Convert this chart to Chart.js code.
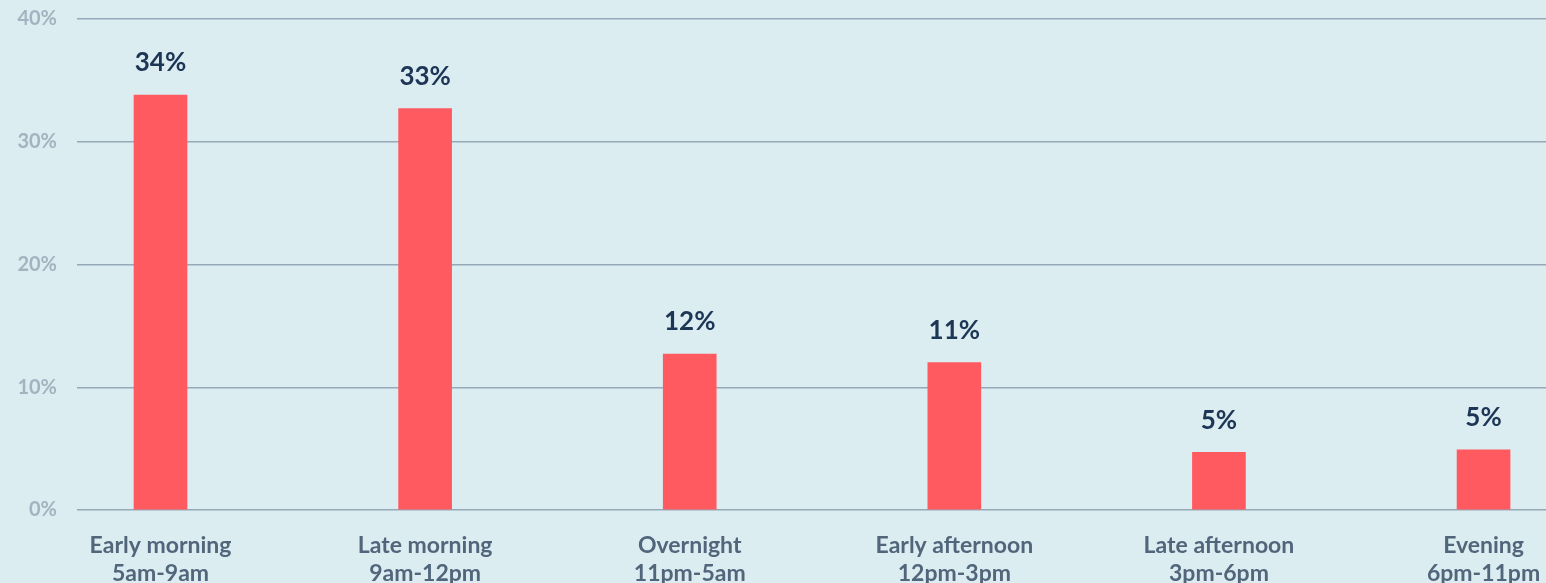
<!DOCTYPE html>
<html>
<head>
<meta charset="utf-8">
<script src="https://cdn.jsdelivr.net/npm/chart.js@4/dist/chart.umd.min.js"></script>
<style>
  html, body { margin: 0; padding: 0; background: #dbedf1; }
  #wrap { width: 1546px; height: 583px; position: relative; }
</style>
</head>
<body>
<div id="wrap"><canvas id="myChart"></canvas></div>
<script>
// categories (two lines each)
const slotNames = ['Early morning', 'Late morning', 'Overnight', 'Early afternoon', 'Late afternoon', 'Evening'];
const slotHours = ['5am-9am', '9am-12pm', '11pm-5am', '12pm-3pm', '3pm-6pm', '6pm-11pm'];
// bar heights (percent)
const shareValues = [33.8, 32.7, 12.7, 12.0, 4.7, 4.9];
// labels printed above the bars
const shareLabels = ['34%', '33%', '12%', '11%', '5%', '5%'];
const yTicks = [0, 10, 20, 30, 40];

const fontFam = 'Lato, "Open Sans", sans-serif';

// no auto padding from the scales
function noPad(s) {
  s.paddingTop = 0; s.paddingBottom = 0; s.paddingLeft = 0; s.paddingRight = 0;
}

// labels au dessus des barres
const barLabels = {
  id: 'barLabels',
  afterDatasetsDraw(chart) {
    const ctx = chart.ctx;
    const meta = chart.getDatasetMeta(0);
    ctx.save();
    ctx.font = '700 26px ' + fontFam;
    ctx.fillStyle = '#1d3656';
    ctx.textAlign = 'center';
    ctx.textBaseline = 'bottom';
    meta.data.forEach((bar, i) => {
      ctx.fillText(shareLabels[i], bar.x, bar.y - 19);
    });
    ctx.restore();
  }
};

const config = {
  type: 'bar',
  data: {
    datasets: [{
      data: shareValues.map((v, i) => ({ x: i, y: v })),
      backgroundColor: '#ff5a5f',
      barThickness: 53
    }]
  },
  options: {
    responsive: true,
    maintainAspectRatio: false,
    animation: false,
    layout: { padding: { top: 19, left: 0, right: 0, bottom: 0 } },
    plugins: { legend: { display: false }, tooltip: { enabled: false } },
    scales: {
      x: {
        type: 'linear',
        offset: false,
        min: -0.3156,
        max: 5.236,
        afterBuildTicks: s => { s.ticks = slotNames.map((n, i) => ({ value: i })); },
        afterFit: s => { s.height = 73; noPad(s); },
        grid: { display: false, drawTicks: false, offset: false },
        border: { display: false },
        ticks: {
          autoSkip: false,
          maxRotation: 0,
          padding: 22,
          color: '#52667b',
          font: { family: fontFam, size: 23, weight: '700', lineHeight: 1.2 },
          callback: v => slotNames[v] ? [slotNames[v], slotHours[v]] : ''
        }
      },
      y: {
        min: 0,
        max: 40,
        afterBuildTicks: s => { s.ticks = yTicks.map(v => ({ value: v })); },
        afterFit: s => { s.width = 77; noPad(s); },
        grid: { color: '#96a9b9', lineWidth: 1.5, drawTicks: false },
        border: { display: false },
        ticks: {
          padding: 20,
          color: '#a3b3c0',
          font: { family: fontFam, size: 20, weight: '700' },
          callback: v => v + '%'
        }
      }
    }
  },
  plugins: [barLabels]
};

const myChart = new Chart(document.getElementById('myChart'), config);
</script>
</body>
</html>
